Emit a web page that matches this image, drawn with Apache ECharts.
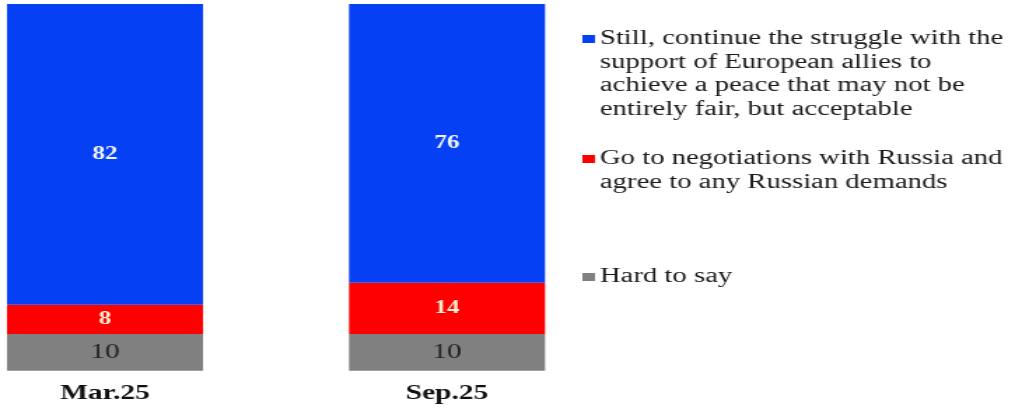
<!DOCTYPE html>
<html>
<head>
<meta charset="utf-8">
<script src="https://cdn.jsdelivr.net/npm/echarts@6/dist/echarts.min.js"></script>
<style>
  html, body { margin: 0; padding: 0; background: #ffffff; overflow: hidden; }
  /* the chart is laid out narrow and then widened, giving the wide lettering */
  #chart { width: 727px; height: 409px; transform: scaleX(1.4); transform-origin: 0 0; }
</style>
</head>
<body>
<div id="chart"></div>
<script>
// Survey waves
const categories = ['Mar.25', 'Sep.25'];

// Answer options, bottom of the stack first
const names = [
  'Hard to say',
  'Go to negotiations with Russia and agree to any Russian demands',
  'Still, continue the struggle with the support of European allies to achieve a peace that may not be entirely fair, but acceptable'
];

// Shares, %
const hardToSay = [10, 10];
const negotiate = [8, 14];
const struggle = [82, 76];

// Legend text as it wraps on the page, top entry first
const legendLines = [
  ['Still, continue the struggle with the', 'support of European allies to', 'achieve a peace that may not be', 'entirely fair, but acceptable'],
  ['Go to negotiations with Russia and', 'agree to any Russian demands'],
  ['Hard to say']
];

const colors = ['#808080', '#ff0000', '#0640f4'];
const labelColors = ['#222222', '#fff0d2', '#f2f6ff'];
const labelWeights = ['normal', 'bold', 'bold'];
const labelSizes = [21, 18, 18];
const serif = '"Liberation Serif", "Times New Roman", "DejaVu Serif", serif';

const values = [hardToSay, negotiate, struggle];

const series = values.map((vals, i) => ({
  name: names[i],
  type: 'bar',
  stack: 'total',
  barWidth: 140,
  clip: false,
  data: vals,
  itemStyle: { color: colors[i] },
  label: {
    show: true,
    position: 'inside',
    color: labelColors[i],
    fontFamily: serif,
    fontWeight: labelWeights[i],
    fontSize: labelSizes[i],
    textBorderWidth: 0
  },
  emphasis: { disabled: true }
}));

// Legend drawn as text blocks beside the bars; order top to bottom
const legendOrder = [2, 1, 0];
const legendTop = [39, 159, 277];
const lineH = 23.5;
const graphics = [];
legendOrder.forEach((si, k) => {
  const cy = legendTop[k];
  graphics.push({
    type: 'rect',
    left: 416, top: cy - 4,
    shape: { width: 9, height: 8 },
    style: { fill: colors[si] }
  });
  graphics.push({
    type: 'text',
    x: 428.5, y: cy - lineH / 2,
    style: {
      text: legendLines[k].join('\n'),
      font: '20.5px ' + serif,
      lineHeight: lineH,
      fill: '#1a1a1a',
      verticalAlign: 'top'
    }
  });
});

const chart = echarts.init(document.getElementById('chart'), null, { renderer: 'canvas' });
chart.setOption({
  animation: false,
  backgroundColor: '#ffffff',
  // category ticks sit on the grid edges, one bar centred on each
  grid: { left: 75, top: 4, width: 244.3, height: 366.7 },
  xAxis: {
    type: 'category',
    data: categories,
    boundaryGap: false,
    axisLine: { show: false },
    axisTick: { show: false },
    splitLine: { show: false },
    axisLabel: {
      margin: 12,
      color: '#111111',
      fontFamily: serif,
      fontWeight: 'bold',
      fontSize: 21
    }
  },
  yAxis: {
    type: 'value',
    min: 0,
    max: 100,
    show: false,
    splitLine: { show: false }
  },
  series: series,
  graphic: graphics
});
</script>
</body>
</html>
